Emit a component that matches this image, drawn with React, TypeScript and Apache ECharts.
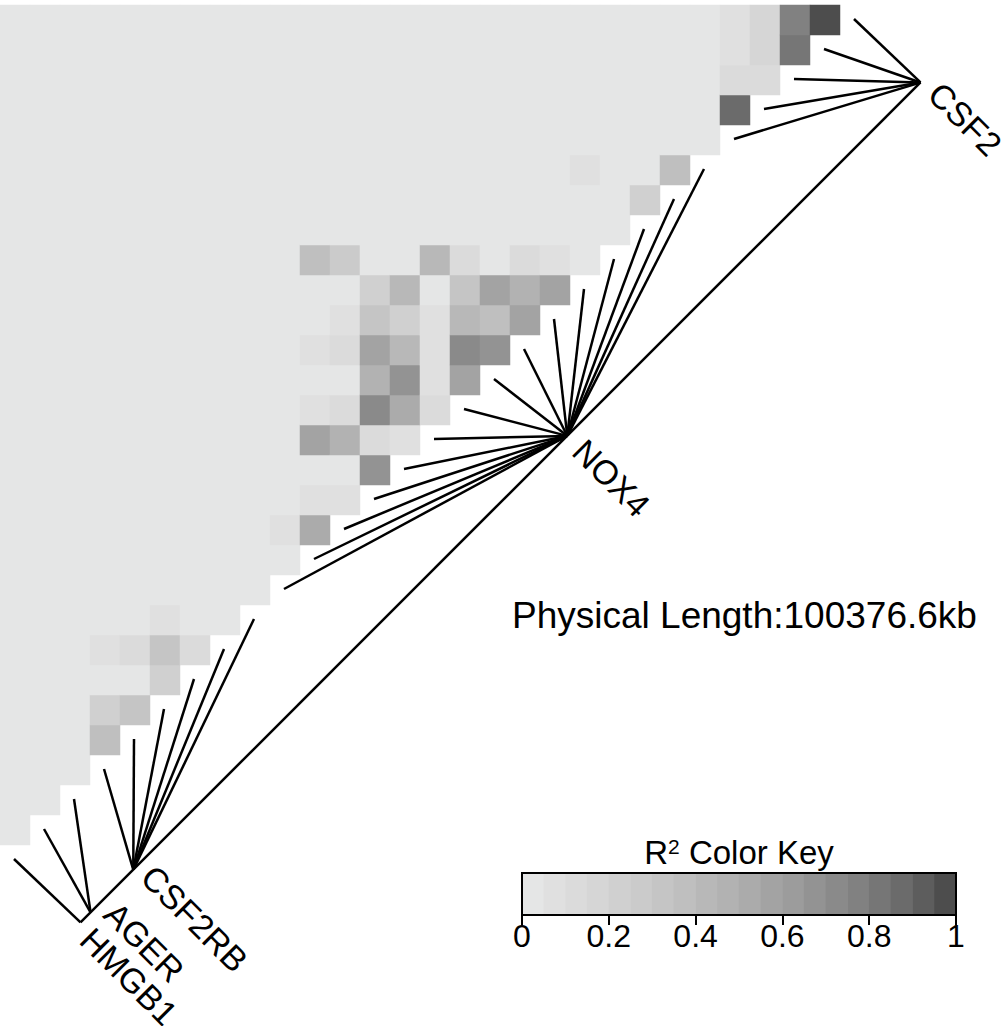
import React, { useEffect, useRef } from "react";
import * as echarts from "echarts";

// ---------- DATA ----------
// Physical positions (kb) of the 29 SNPs, in genomic order
const snpPositionsKb = [
  1000.0,
  2198.4, 2201.9,
  7301.2, 7305.8, 7312.4, 7318.9, 7324.5, 7331.7,
  59090.3, 59098.6, 59104.2, 59112.8, 59121.5, 59130.1, 59139.7, 59146.3,
  59155.9, 59163.4, 59171.2, 59180.8, 59188.5, 59197.3, 59205.6,
  101351.2, 101356.8, 101362.5, 101369.9, 101376.6,
];

// Genes, in genomic order, with the number of SNPs in each
const geneNames = ["HMGB1", "AGER", "CSF2RB", "NOX4", "CSF2"];
const geneSnpCounts = [1, 2, 6, 15, 5];

// Pairwise LD (R^2) between SNP i and SNP j (i < j); all other pairs are ~0
const ldPairs: [number, number, number][] = [
  [24, 28, 0.07], [25, 28, 0.17], [26, 28, 0.77], [27, 28, 0.97],
  [24, 27, 0.07], [25, 27, 0.17], [26, 27, 0.82],
  [24, 26, 0.12], [25, 26, 0.12],
  [24, 25, 0.87],
  [19, 23, 0.07], [22, 23, 0.38],
  [21, 22, 0.22],
  [10, 20, 0.37], [11, 20, 0.27], [14, 20, 0.42], [15, 20, 0.12], [17, 20, 0.12], [18, 20, 0.06],
  [12, 19, 0.22], [13, 19, 0.42], [15, 19, 0.34], [16, 19, 0.57], [17, 19, 0.47], [18, 19, 0.57],
  [11, 18, 0.07], [12, 18, 0.32], [13, 18, 0.22], [14, 18, 0.07], [15, 18, 0.43], [16, 18, 0.38], [17, 18, 0.57],
  [10, 17, 0.07], [11, 17, 0.12], [12, 17, 0.57], [13, 17, 0.42], [14, 17, 0.07], [15, 17, 0.72], [16, 17, 0.67],
  [12, 16, 0.47], [13, 16, 0.67], [14, 16, 0.06], [15, 16, 0.57],
  [10, 15, 0.07], [11, 15, 0.12], [12, 15, 0.72], [13, 15, 0.53], [14, 15, 0.12],
  [10, 14, 0.57], [11, 14, 0.47], [12, 14, 0.12], [13, 14, 0.06],
  [12, 13, 0.67],
  [10, 12, 0.07], [11, 12, 0.07],
  [9, 11, 0.07], [10, 11, 0.5],
  [5, 8, 0.07],
  [3, 7, 0.07], [4, 7, 0.12], [5, 7, 0.32], [6, 7, 0.12],
  [5, 6, 0.2],
  [3, 5, 0.2], [4, 5, 0.32],
  [3, 4, 0.37],
];
const backgroundR2 = 0.01;

// Colour key: 20 grey bins from light (R^2 = 0) to dark (R^2 = 1)
const keyColors = [
  "#E5E6E6", "#E0E0E0", "#DBDBDB", "#D6D6D6", "#D0D0D0",
  "#CBCBCB", "#C5C5C5", "#BFBFBF", "#B8B8B8", "#B2B2B2",
  "#ABABAB", "#A3A3A3", "#9C9C9C", "#939393", "#8A8A8A",
  "#818181", "#767676", "#6B6B6B", "#5D5D5D", "#4D4D4D",
];
const keyTickStep = 0.2;

// ---------- LAYOUT / STYLE ----------
const FONT = "'Liberation Sans', Arial, Helvetica, sans-serif";
const CELL = 30; // px per cell
const TOP = 5;
const W = 1001;
const H = 1026;
const START_OFF = 14 / CELL; // line start offset from staircase corner (cell units)
const LINE_OFF_X = 80.5 / CELL;
const LINE_OFF_Y = 2.58;
// per-gene label nudges: [along text direction px, perpendicular (up-right) px]
const labelNudges: [number, number][] = [
  [12, -4],
  [11, 17],
  [11, 8.5],
  [15, 1.5],
  [14, 5.7],
];

export default function App() {
  const ref = useRef<HTMLDivElement>(null);

  useEffect(() => {
    if (!ref.current) return;
    const chart = echarts.init(ref.current, undefined, { renderer: "svg" });

    const nSnp = snpPositionsKb.length;
    const N = nSnp - 1;
    const p0 = snpPositionsKb[0];
    const pN = snpPositionsKb[N];
    const span = pN - p0;

    // heatmap cells
    const ldMap = new Map<string, number>();
    ldPairs.forEach(([i, j, v]) => ldMap.set(i + "-" + j, v));
    const cells: [number, number, number][] = [];
    for (let i = 0; i < N; i++) {
      for (let j = i + 1; j <= N; j++) {
        const v = ldMap.has(i + "-" + j) ? (ldMap.get(i + "-" + j) as number) : backgroundR2;
        cells.push([i, N - j, v]);
      }
    }
    const catX = Array.from({ length: N }, (_, k) => String(k));
    const catY = Array.from({ length: N }, (_, k) => String(k));

    // lines from SNP to physical position
    const startPt = (i: number) => [i + START_OFF, N - i + START_OFF];
    const endPt = (i: number) => {
      const t = (snpPositionsKb[i] - p0) / span;
      return [N * t + LINE_OFF_X, N * (1 - t) + LINE_OFF_Y];
    };
    const lineData: any[] = [];
    for (let i = 0; i < nSnp; i++) lineData.push({ coords: [startPt(i), endPt(i)] });
    lineData.push({ coords: [endPt(0), endPt(N)] });

    // gene labels
    const labelData: any[] = [];
    let idx = 0;
    geneNames.forEach((g, gi) => {
      const cnt = geneSnpCounts[gi];
      let sx = 0, sy = 0;
      for (let k = 0; k < cnt; k++) {
        const e = endPt(idx + k);
        sx += e[0];
        sy += e[1];
      }
      idx += cnt;
      const [d, n] = labelNudges[gi];
      const dx = (d + n) / Math.SQRT2 / CELL;
      const dy = (d - n) / Math.SQRT2 / CELL;
      labelData.push({ name: g, value: [sx / cnt + dx, sy / cnt + dy] });
    });

    // key
    const nBins = keyColors.length;
    const keyData = keyColors.map((_, b) => [b, 0, (b + 0.5) / nBins]);
    const pieces = keyColors.map((c, b) =>
      b === nBins - 1
        ? { gte: b / nBins, lte: 1, color: c }
        : { gte: b / nBins, lt: (b + 1) / nBins, color: c }
    );

    const lengthKb = (pN - p0).toFixed(1);

    chart.setOption({
      animation: false,
      backgroundColor: "#fff",
      grid: [
        { left: 0, top: TOP, width: N * CELL, height: N * CELL },
        { left: 0, top: TOP, width: W, height: H - TOP },
        {
          left: 522, top: 873, width: 434, height: 42,
          show: true, borderColor: "#000", borderWidth: 2,
          backgroundColor: "transparent", z: 10,
        },
      ],
      xAxis: [
        { type: "category", gridIndex: 0, data: catX, show: false },
        { type: "value", gridIndex: 1, min: 0, max: W / CELL, show: false },
        { type: "category", gridIndex: 2, data: keyColors.map((_, b) => String(b)), show: false, position: "top" },
        {
          type: "value", gridIndex: 2, min: 0, max: 1, interval: keyTickStep, position: "bottom",
          axisLine: { show: false },
          axisTick: { show: true, inside: false, length: 10, lineStyle: { color: "#000", width: 2 } },
          axisLabel: { fontSize: 32, color: "#000", fontFamily: FONT, margin: 5 },
          splitLine: { show: false },
        },
      ],
      yAxis: [
        { type: "category", gridIndex: 0, data: catY, inverse: true, show: false },
        { type: "value", gridIndex: 1, min: 0, max: (H - TOP) / CELL, inverse: true, show: false },
        { type: "category", gridIndex: 2, data: ["0"], show: false },
      ],
      visualMap: {
        type: "piecewise",
        show: false,
        seriesIndex: [0, 3],
        pieces,
      },
      series: [
        {
          type: "heatmap",
          xAxisIndex: 0,
          yAxisIndex: 0,
          data: cells,
          itemStyle: { borderWidth: 0 },
          emphasis: { disabled: true },
        },
        {
          type: "lines",
          coordinateSystem: "cartesian2d",
          xAxisIndex: 1,
          yAxisIndex: 1,
          data: lineData,
          lineStyle: { color: "#000", width: 2.5, opacity: 1 },
          z: 5,
          silent: true,
        },
        {
          type: "scatter",
          xAxisIndex: 1,
          yAxisIndex: 1,
          data: labelData,
          symbolSize: 0.1,
          itemStyle: { color: "#fff", opacity: 0 },
          label: {
            show: true,
            formatter: "{b}",
            position: "inside",
            align: "left",
            verticalAlign: "middle",
            rotate: -45,
            fontSize: 34,
            color: "#000",
            textBorderWidth: 0,
            textBorderColor: "transparent",
            opacity: 1,
            fontFamily: FONT,
          },
          labelLayout: { hideOverlap: false },
          z: 6,
          silent: true,
        },
        {
          type: "heatmap",
          xAxisIndex: 2,
          yAxisIndex: 2,
          data: keyData,
          itemStyle: { borderWidth: 0 },
          emphasis: { disabled: true },
        },
      ],
      graphic: [
        {
          type: "text",
          x: 512,
          y: 615,
          style: {
            text: "Physical Length:" + lengthKb + "kb",
            font: "37px " + FONT,
            fill: "#000",
            align: "left",
            verticalAlign: "middle",
          },
        },
        {
          type: "text",
          x: 739,
          y: 852,
          style: {
            text: "{a|R}{s|2}{a| Color Key}",
            align: "center",
            verticalAlign: "middle",
            rich: {
              a: { fontSize: 33, fontFamily: FONT, fill: "#000", color: "#000" },
              s: { fontSize: 21, fontFamily: FONT, fill: "#000", color: "#000", verticalAlign: "top" },
            },
          },
        },
      ],
    });

    return () => chart.dispose();
  }, []);

  return (
    <div
      ref={ref}
      style={{ position: "fixed", left: 0, top: 0, width: W, height: H, background: "#fff" }}
    />
  );
}
